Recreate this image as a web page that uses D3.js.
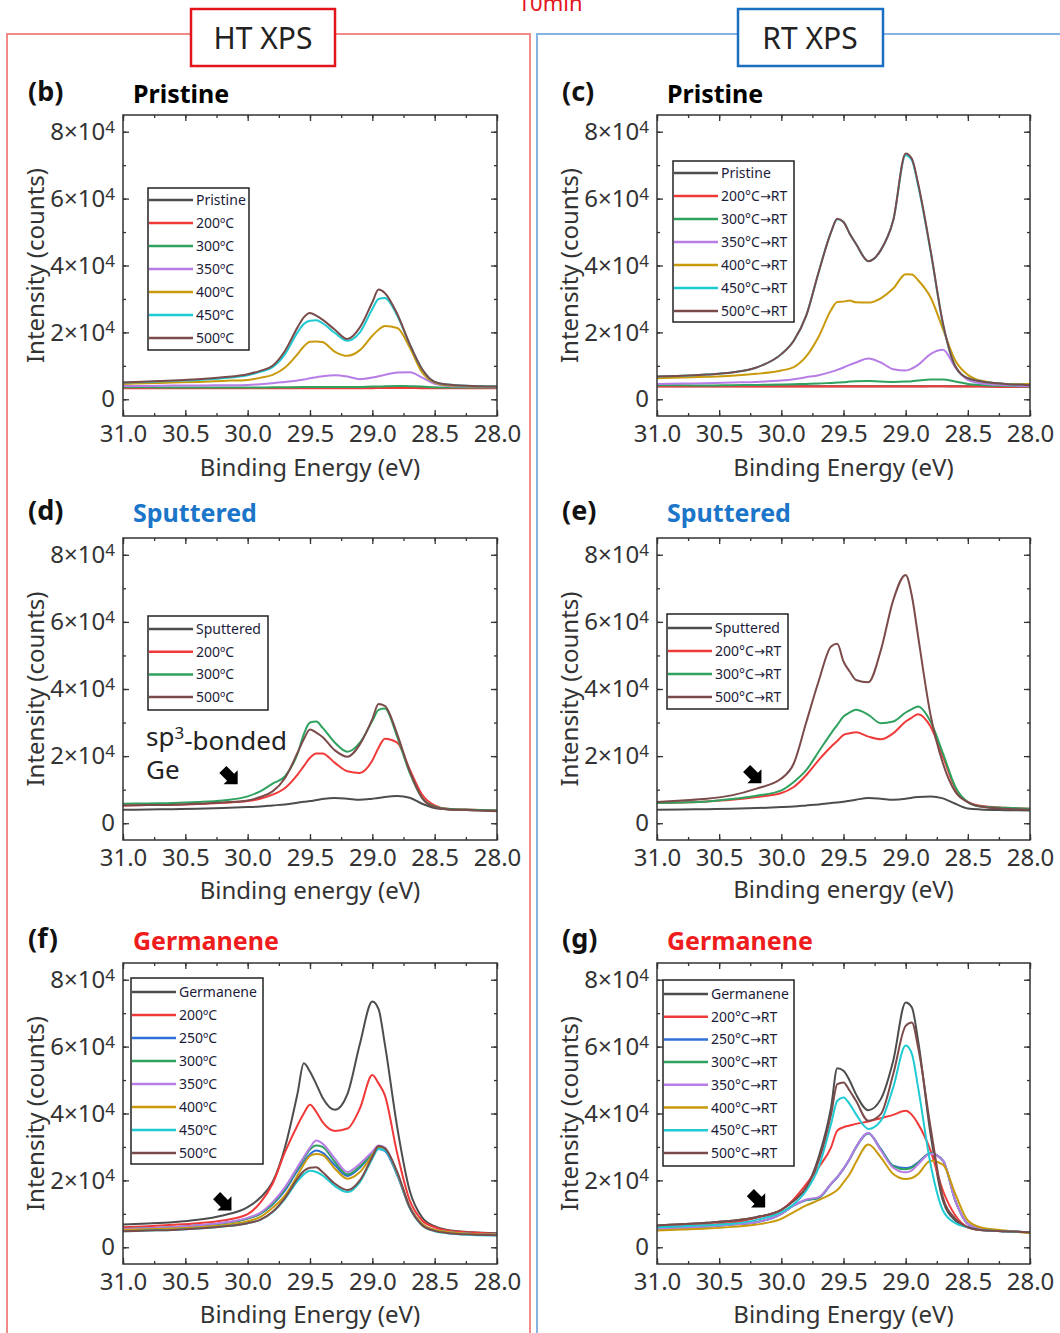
<!DOCTYPE html>
<html>
<head>
<meta charset="utf-8">
<script src="https://cdn.jsdelivr.net/npm/d3@7"></script>
<style>
body { margin: 0; background: #fff; }
svg { display: block; font-family: "Noto Sans", sans-serif; }
</style>
</head>
<body>
<svg id="canvas" width="1060" height="1333"></svg>
<script>
// binding energy grid (eV), intensities below are in 10^3 counts
const energy = [31.0, 30.8, 30.6, 30.4, 30.2, 30.0, 29.9, 29.8, 29.7, 29.6, 29.55, 29.5, 29.45, 29.4,
                29.3, 29.2, 29.1, 29.0, 28.95, 28.9, 28.8, 28.7, 28.6, 28.5, 28.4, 28.2, 28.0];
const xTicks = [31.0, 30.5, 30.0, 29.5, 29.0, 28.5, 28.0];
const yTicks = [0, 20, 40, 60, 80];

// (b) HT XPS, pristine
const bKeys = ["ref", "200", "300", "350", "400", "450", "500"];
const bNames = ["Pristine", "200ºC", "300ºC", "350ºC", "400ºC", "450ºC", "500ºC"];
const bValues = [
  [3.4,3.4,3.4,3.4,3.4,3.4,3.4,3.4,3.4,3.5,3.5,3.5,3.5,3.5,3.5,3.5,3.5,3.6,3.6,3.6,3.6,3.5,3.4,3.4,3.4,3.4,3.4],
  [3.3,3.3,3.3,3.3,3.3,3.3,3.3,3.3,3.3,3.3,3.3,3.3,3.3,3.3,3.3,3.3,3.3,3.3,3.4,3.4,3.4,3.4,3.3,3.3,3.3,3.3,3.3],
  [3.6,3.6,3.5,3.5,3.5,3.5,3.5,3.6,3.6,3.6,3.7,3.7,3.7,3.7,3.7,3.7,3.7,3.8,3.8,3.9,4.0,3.9,3.8,3.6,3.5,3.5,3.5],
  [4.0,4.0,4.1,4.1,4.2,4.3,4.5,4.8,5.2,5.6,5.9,6.3,6.6,6.9,7.2,6.8,6.0,6.5,6.9,7.3,8.0,8.1,6.5,4.6,4.0,3.8,3.6],
  [4.6,4.8,5.0,5.2,5.5,5.8,6.4,7.3,9.5,13.5,15.8,17.2,17.3,17.1,14.2,13.0,14.7,19.0,20.8,21.9,21.3,15.5,8.0,5.0,4.2,3.9,3.8],
  [5.0,5.2,5.5,5.8,6.3,7.2,8.2,9.6,13.5,20.0,22.5,23.5,23.6,22.8,19.8,17.5,20.0,27.0,30.0,30.3,25.0,16.5,9.0,5.2,4.4,4.0,3.8],
  [5.0,5.3,5.6,6.0,6.6,7.5,8.5,10.0,14.5,21.5,24.5,25.8,25.0,23.8,20.8,18.0,21.5,29.0,32.8,31.8,25.5,16.5,9.0,5.2,4.4,4.0,3.8]
];

// (c) RT XPS, pristine
const cKeys = ["ref", "200", "300", "350", "400", "450", "500"];
const cNames = ["Pristine", "200°C→RT", "300°C→RT", "350°C→RT", "400°C→RT", "450°C→RT", "500°C→RT"];
const cValues = [
  [3.9,3.9,3.9,3.9,3.9,3.9,3.9,3.9,3.9,3.9,3.9,3.9,3.9,3.9,3.9,3.9,3.9,3.9,3.9,3.9,3.9,3.9,3.9,3.9,3.9,3.8,3.8],
  [3.8,3.8,3.8,3.8,3.8,3.8,3.8,3.8,3.8,3.8,3.8,3.8,3.8,3.8,3.8,3.8,3.8,3.8,3.8,3.8,3.9,3.9,3.8,3.8,3.8,3.7,3.7],
  [4.2,4.2,4.1,4.2,4.3,4.4,4.5,4.6,4.7,4.9,5.0,5.1,5.3,5.4,5.5,5.3,5.2,5.3,5.4,5.6,5.9,5.9,5.3,4.6,4.3,4.0,3.8],
  [4.6,4.7,4.8,5.0,5.2,5.6,6.0,6.6,7.2,8.2,8.8,9.5,10.3,11.0,12.2,11.0,9.0,8.6,9.2,10.3,13.5,14.8,9.5,5.8,4.8,4.2,4.0],
  [6.3,6.5,6.7,7.0,7.6,8.6,9.6,12.8,18.7,26.7,29.1,29.2,29.5,29.0,28.9,30.2,33.1,37.4,37.3,35.6,30.5,21.0,11.5,7.3,5.6,4.6,4.6],
  [6.8,7.0,7.4,8.0,9.5,13.5,17.5,25.0,38.0,50.0,53.8,53.0,49.5,46.5,41.3,44.6,53.5,73.0,71.5,64.0,44.3,22.5,9.8,6.3,5.4,4.6,4.2],
  [6.8,7.0,7.4,8.0,9.5,13.5,17.5,25.0,38.0,50.0,54.0,53.0,49.5,46.5,41.3,44.6,53.5,73.5,71.9,64.5,44.6,22.7,9.8,6.3,5.4,4.6,4.2]
];

// (d) HT XPS, sputtered
const dKeys = ["ref", "200", "300", "500"];
const dNames = ["Sputtered", "200ºC", "300ºC", "500ºC"];
const dValues = [
  [4.0,4.1,4.2,4.3,4.5,4.8,5.0,5.3,5.6,6.1,6.4,6.6,6.9,7.2,7.5,7.3,7.0,7.3,7.5,7.8,8.1,7.6,5.8,4.5,4.1,3.9,3.8],
  [5.3,5.4,5.5,5.7,6.1,6.6,7.3,8.5,10.5,14.5,17.0,19.5,20.8,20.8,18.0,15.5,15.0,18.7,22.5,25.2,24.0,16.0,8.5,5.3,4.3,4.0,3.8],
  [5.8,5.9,6.0,6.3,6.8,8.0,9.5,11.8,14.0,20.7,26.5,30.0,30.3,28.5,24.0,21.3,24.0,30.5,33.8,34.2,25.7,15.0,7.5,5.0,4.3,4.0,3.8],
  [5.3,5.4,5.5,5.8,6.2,6.8,7.8,9.5,13.5,21.0,25.0,27.9,27.0,25.7,21.7,19.8,23.5,31.0,35.5,35.0,26.5,15.5,7.5,4.8,4.2,3.9,3.6]
];

// (e) RT XPS, sputtered
const eKeys = ["ref", "200", "300", "500"];
const eNames = ["Sputtered", "200°C→RT", "300°C→RT", "500°C→RT"];
const eValues = [
  [4.0,4.1,4.2,4.3,4.5,4.8,5.0,5.3,5.6,6.0,6.2,6.4,6.7,7.0,7.5,7.3,7.0,7.3,7.6,7.8,8.0,7.4,5.8,4.4,4.1,3.9,3.8],
  [6.0,6.2,6.5,7.0,7.8,9.0,10.8,14.3,18.8,22.8,24.5,26.3,26.8,27.1,25.8,25.0,26.8,30.3,31.5,32.5,28.8,19.8,10.3,6.3,5.2,4.6,4.3],
  [6.0,6.2,6.5,7.2,8.2,9.8,12.3,15.8,21.3,26.8,29.3,31.8,33.0,33.8,32.3,29.8,30.3,33.0,34.0,34.8,30.3,20.8,10.8,6.3,5.0,4.6,4.3],
  [6.3,6.8,7.3,8.3,10.3,13.3,17.8,30.0,42.3,52.7,53.5,48.2,45.2,42.7,42.0,51.5,66.5,74.0,67.7,55.7,32.3,17.8,9.3,6.3,5.0,4.3,4.0]
];

// (f) HT XPS, germanene
const fKeys = ["ref", "200", "250", "300", "350", "400", "450", "500"];
const fNames = ["Germanene", "200ºC", "250ºC", "300ºC", "350ºC", "400ºC", "450ºC", "500ºC"];
const fValues = [
  [6.8,7.1,7.5,8.2,9.5,12.0,14.8,19.5,30.0,46.0,55.0,52.5,48.8,44.8,41.1,45.8,60.8,73.5,71.2,60.8,35.8,16.9,8.9,6.3,5.2,4.5,4.2],
  [6.0,6.3,6.7,7.2,8.0,9.9,13.3,19.0,28.5,36.5,40.0,42.6,40.5,37.5,34.8,35.5,41.5,51.5,49.0,45.5,28.0,14.0,8.0,6.0,5.0,4.4,4.0],
  [5.5,5.7,6.0,6.5,7.2,8.6,10.0,12.8,17.0,23.0,25.5,27.8,28.9,28.3,24.5,21.3,23.8,27.8,29.4,28.8,21.5,11.8,6.8,5.0,4.5,4.0,3.8],
  [5.5,5.7,6.0,6.5,7.2,8.6,10.0,13.0,17.5,23.5,26.5,29.2,30.4,30.0,25.5,21.8,24.2,28.2,29.9,29.5,22.0,12.0,7.0,5.2,4.6,4.0,3.8],
  [5.5,5.7,6.0,6.5,7.3,8.8,10.3,13.5,18.0,24.0,27.0,29.8,31.9,31.0,26.5,22.5,25.0,28.6,30.4,29.8,22.0,12.0,7.0,5.2,4.6,4.0,3.8],
  [5.2,5.4,5.6,6.0,6.6,7.8,9.0,11.8,15.5,21.5,24.8,27.3,27.9,27.6,23.5,20.5,22.5,27.5,30.1,29.5,22.0,12.0,7.0,5.2,4.6,4.0,3.8],
  [4.8,5.0,5.2,5.6,6.2,7.2,8.2,10.5,14.5,19.8,21.8,22.9,22.5,21.5,18.3,16.5,19.5,26.5,29.4,29.0,22.0,11.8,6.5,4.8,4.2,3.7,3.5],
  [4.8,5.0,5.2,5.6,6.2,7.2,8.2,10.6,14.8,20.5,22.8,23.8,23.9,22.5,19.0,17.1,20.0,27.0,30.3,29.6,22.5,12.0,6.6,4.9,4.3,3.8,3.6]
];

// (g) RT XPS, germanene
const gKeys = ["ref", "200", "250", "300", "350", "400", "450", "500"];
const gNames = ["Germanene", "200°C→RT", "250°C→RT", "300°C→RT", "350°C→RT", "400°C→RT", "450°C→RT", "500°C→RT"];
const gValues = [
  [6.5,6.9,7.3,7.9,9.0,11.2,13.9,17.9,26.9,41.8,53.5,52.8,49.8,45.8,41.0,44.3,55.8,73.2,71.7,61.8,33.9,13.9,8.0,6.0,5.2,4.8,4.5],
  [6.0,6.3,6.7,7.3,8.8,11.2,14.4,18.9,23.9,29.9,34.9,35.9,36.4,36.9,37.6,38.6,39.6,40.8,39.6,36.9,28.9,16.9,9.5,6.0,5.2,4.8,4.5],
  [5.5,5.8,6.2,6.8,7.5,10.0,12.5,14.1,14.7,18.9,20.9,23.4,26.4,29.9,34.1,29.4,24.4,23.7,24.1,25.4,28.1,25.9,13.9,7.0,5.5,4.8,4.5],
  [5.5,5.8,6.2,6.8,7.5,10.0,12.5,14.1,14.8,19.0,21.0,23.5,26.4,29.8,34.0,29.2,24.2,23.3,23.8,25.2,28.1,25.9,13.9,7.0,5.5,4.8,4.5],
  [5.5,5.8,6.2,6.8,7.5,10.0,12.5,14.3,15.0,19.0,21.0,23.5,26.5,29.9,34.2,29.0,23.8,22.4,23.0,24.8,28.0,25.9,13.9,7.0,5.5,4.8,4.5],
  [5.0,5.3,5.6,6.1,6.8,8.5,10.5,12.5,14.1,15.9,17.1,19.4,21.9,25.4,30.7,26.9,21.9,20.4,20.7,21.9,25.9,24.7,15.9,8.0,6.0,5.0,4.2],
  [6.0,6.3,6.6,7.0,8.2,10.5,12.9,16.9,23.9,36.9,43.8,44.8,42.8,39.8,35.4,37.8,47.8,60.3,57.8,47.8,24.9,11.0,7.2,6.0,5.2,4.8,4.5],
  [6.5,6.9,7.3,7.9,9.0,11.2,13.9,17.9,25.9,39.8,48.8,49.3,46.8,43.8,37.8,39.8,51.8,66.2,67.2,59.8,35.9,14.9,8.5,6.0,5.2,4.8,4.5]
];

// arrow tips marking the sp3-bonded Ge shoulder: [energy, intensity]
const dArrow = [30.08, 11.6];
const eArrow = [30.16, 11.9];
const fArrow = [30.13, 11.0];
const gArrow = [30.13, 11.9];

const colors = {
    ref: "#4d4d4d", "200": "#f03a3a", "250": "#2f6fd8", "300": "#2ea25e",
    "350": "#b77de6", "400": "#c99a0c", "450": "#1fcad2", "500": "#7b4b4b"
};

const svg = d3.select("#canvas");

// outer frames and headers
const frames = svg.append("g").attr("fill", "none").attr("stroke-width", 2);
frames.append("path").attr("stroke", "#f38a8a")
    .attr("d", "M191,34 H7 V1333 M335,34 H530 V1333");
frames.append("path").attr("stroke", "#86b4e2")
    .attr("d", "M738,34 H537 V1333 M883,34 H1062");

svg.append("rect").attr("x", 191).attr("y", 9).attr("width", 144).attr("height", 57)
    .attr("fill", "#fff").attr("stroke", "#e3141b").attr("stroke-width", 2.5);
svg.append("text").attr("x", 263).attr("y", 49).attr("text-anchor", "middle")
    .attr("font-size", 30).attr("fill", "#222").text("HT XPS");
svg.append("rect").attr("x", 738).attr("y", 9).attr("width", 145).attr("height", 57)
    .attr("fill", "#fff").attr("stroke", "#1a6fc1").attr("stroke-width", 2.5);
svg.append("text").attr("x", 810).attr("y", 49).attr("text-anchor", "middle")
    .attr("font-size", 30).attr("fill", "#222").text("RT XPS");
svg.append("text").attr("x", 550).attr("y", 11).attr("text-anchor", "middle")
    .attr("font-size", 22).attr("fill", "#e3141b").text("10min");

const cols = [{x0: 123, x1: 497, yTitle: 44}, {x0: 657, x1: 1030, yTitle: 578}];
const rows = [
    {top: 115, bottom: 416, head: 101, xTitle: 476},
    {top: 538, bottom: 840, head: 520, xTitle: 899},
    {top: 963, bottom: 1264, head: 948, xTitle: 1323}
];

const panels = [
    {col: 0, row: 0, tag: "(b)", title: "Pristine", tcol: "#000", keys: bKeys, names: bNames, values: bValues,
     leg: {x: 148, y: 188, w: 101, h: 162, r0: 200, dr: 23}, xt: "Binding Energy (eV)"},
    {col: 1, row: 0, tag: "(c)", title: "Pristine", tcol: "#000", keys: cKeys, names: cNames, values: cValues,
     leg: {x: 673, y: 161, w: 121, h: 161, r0: 173, dr: 23}, xt: "Binding Energy (eV)"},
    {col: 0, row: 1, tag: "(d)", title: "Sputtered", tcol: "#1b75c9", keys: dKeys, names: dNames, values: dValues,
     leg: {x: 148, y: 616, w: 120, h: 94, r0: 629, dr: 22.7}, xt: "Binding energy (eV)", arrow: dArrow, sp3: true},
    {col: 1, row: 1, tag: "(e)", title: "Sputtered", tcol: "#1b75c9", keys: eKeys, names: eNames, values: eValues,
     leg: {x: 667, y: 614, w: 121, h: 95, r0: 628, dr: 23}, xt: "Binding energy (eV)", arrow: eArrow, xtShift: -1},
    {col: 0, row: 2, tag: "(f)", title: "Germanene", tcol: "#ee1c1c", keys: fKeys, names: fNames, values: fValues,
     leg: {x: 131, y: 978, w: 132, h: 186, r0: 992, dr: 23}, xt: "Binding Energy (eV)", arrow: fArrow},
    {col: 1, row: 2, tag: "(g)", title: "Germanene", tcol: "#ee1c1c", keys: gKeys, names: gNames, values: gValues,
     leg: {x: 663, y: 980, w: 131, h: 186, r0: 994, dr: 22.7}, xt: "Binding Energy (eV)", arrow: gArrow}
];

panels.forEach(drawPanel);

function drawPanel(p) {
    const c = cols[p.col];
    const r = rows[p.row];
    const x = d3.scaleLinear().domain([31, 28]).range([c.x0, c.x1]);
    const y = d3.scaleLinear().domain([-5, 85]).range([r.bottom, r.top]);
    const g = svg.append("g");

    // spectra
    const line = d3.line()
        .x((d, i) => x(energy[i]))
        .y(d => y(d))
        .curve(d3.curveMonotoneX);
    p.values.forEach((vals, i) => {
        g.append("path")
            .attr("d", line(vals))
            .attr("fill", "none")
            .attr("stroke", colors[p.keys[i]])
            .attr("stroke-width", 2);
    });

    // axes with inward ticks on all sides
    const minorX = d3.range(31, 27.9, -0.25);
    const minorY = d3.range(0, 85, 10);
    const axes = [
        [d3.axisBottom(x).tickValues(xTicks).tickSize(-6).tickPadding(9).tickFormat(d3.format(".1f")), `translate(0,${r.bottom})`, "x"],
        [d3.axisBottom(x).tickValues(minorX).tickSize(-3).tickFormat(""), `translate(0,${r.bottom})`, ""],
        [d3.axisTop(x).tickValues(xTicks).tickSize(-6).tickFormat(""), `translate(0,${r.top})`, ""],
        [d3.axisTop(x).tickValues(minorX).tickSize(-3).tickFormat(""), `translate(0,${r.top})`, ""],
        [d3.axisLeft(y).tickValues(yTicks).tickSize(-6).tickPadding(8), `translate(${c.x0},0)`, "y"],
        [d3.axisLeft(y).tickValues(minorY).tickSize(-3).tickFormat(""), `translate(${c.x0},0)`, ""],
        [d3.axisRight(y).tickValues(yTicks).tickSize(-6).tickFormat(""), `translate(${c.x1},0)`, ""],
        [d3.axisRight(y).tickValues(minorY).tickSize(-3).tickFormat(""), `translate(${c.x1},0)`, ""]
    ];
    axes.forEach(([ax, tr, kind]) => {
        const a = g.append("g").attr("transform", tr).call(ax);
        a.select(".domain").remove();
        a.selectAll(".tick line").attr("stroke", "#333").attr("stroke-width", 1.3);
        if (!kind) { a.selectAll(".tick text").remove(); return; }
        a.selectAll(".tick text").attr("font-size", 24).attr("fill", "#333")
            .attr("font-family", "Noto Sans, sans-serif");
        if (kind === "y") {
            // labels written as a×10^4
            a.selectAll(".tick text").each(function (d) {
                if (d === 0) return;
                const t = d3.select(this).text(null);
                t.append("tspan").text(`${d / 10}×10`);
                t.append("tspan").attr("dy", "-0.42em").attr("font-size", 17).text("4");
            });
        }
    });

    g.append("rect")
        .attr("x", c.x0).attr("y", r.top)
        .attr("width", c.x1 - c.x0).attr("height", r.bottom - r.top)
        .attr("fill", "none").attr("stroke", "#333").attr("stroke-width", 1.5);

    // axis titles
    g.append("text")
        .attr("x", (c.x0 + c.x1) / 2).attr("y", r.xTitle + (p.xtShift || 0))
        .attr("text-anchor", "middle").attr("font-size", 24).attr("fill", "#333")
        .text(p.xt);
    g.append("text")
        .attr("transform", `translate(${c.yTitle},${(r.top + r.bottom) / 2}) rotate(-90)`)
        .attr("text-anchor", "middle").attr("font-size", 24).attr("fill", "#333")
        .text("Intensity (counts)");

    // panel tag and title
    g.append("text").attr("x", c.x0 - 95).attr("y", r.head)
        .attr("font-size", 27).attr("font-weight", "bold").attr("fill", "#111").text(p.tag);
    g.append("text").attr("x", c.x0 + 10).attr("y", r.head + 2)
        .attr("font-size", 25).attr("font-weight", "bold").attr("fill", p.tcol).text(p.title);

    // legend
    const L = p.leg;
    const lg = g.append("g");
    lg.append("rect").attr("x", L.x).attr("y", L.y).attr("width", L.w).attr("height", L.h)
        .attr("fill", "#fff").attr("stroke", "#222").attr("stroke-width", 1.5);
    p.names.forEach((name, i) => {
        const yy = L.r0 + i * L.dr;
        lg.append("line").attr("x1", L.x + 1).attr("x2", L.x + 45).attr("y1", yy).attr("y2", yy)
            .attr("stroke", colors[p.keys[i]]).attr("stroke-width", 2.5);
        const t = lg.append("text").attr("x", L.x + 48).attr("y", yy + 5)
            .attr("font-size", 14).attr("fill", "#1c1c3a");
        const parts = name.split("→");
        t.append("tspan").text(parts[0]);
        if (parts.length > 1) {
            t.append("tspan").attr("font-family", "DejaVu Sans, sans-serif").attr("font-size", 13).text("→");
            t.append("tspan").text(parts[1]);
        }
    });

    // sp3 annotation
    if (p.sp3) {
        const t = g.append("text").attr("x", c.x0 + 23).attr("y", y(23))
            .attr("font-size", 26).attr("fill", "#222");
        t.append("tspan").text("sp");
        t.append("tspan").attr("dy", "-0.4em").attr("font-size", 17).text("3");
        t.append("tspan").attr("dy", "0.4em").text("-bonded");
        g.append("text").attr("x", c.x0 + 23).attr("y", y(13.3))
            .attr("font-size", 26).attr("fill", "#222").text("Ge");
    }
    if (p.arrow) {
        g.append("path")
            .attr("d", "M0,0 L-10,-10 L-10,-5 L-21,-5 L-21,5 L-10,5 L-10,10 Z")
            .attr("fill", "#000")
            .attr("transform", `translate(${x(p.arrow[0])},${y(p.arrow[1])}) rotate(45)`);
    }
}
</script>
</body>
</html>
